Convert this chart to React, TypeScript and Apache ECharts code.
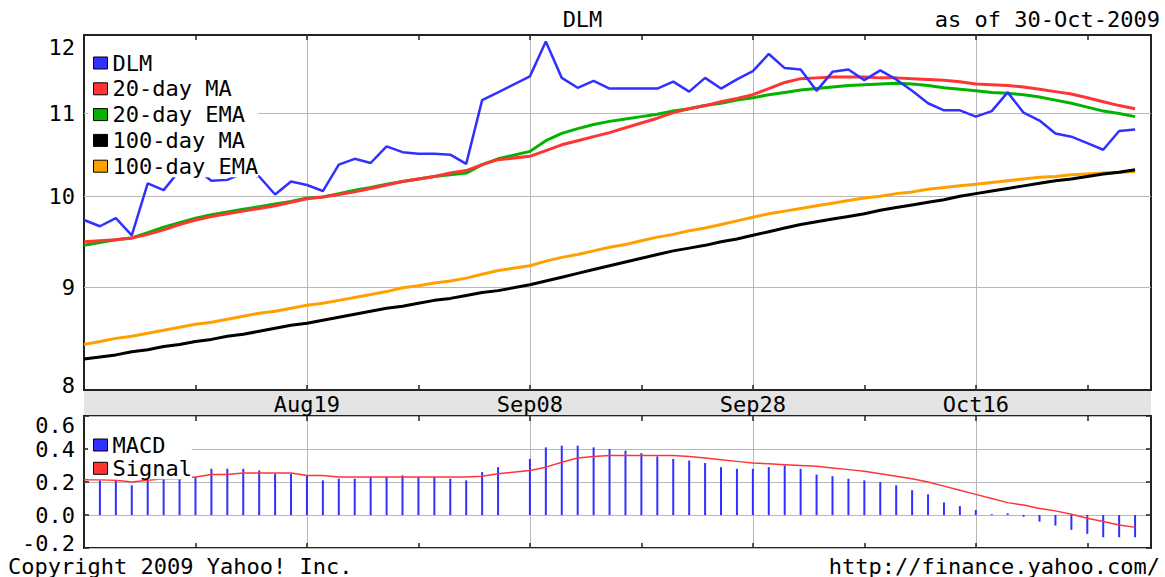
import React, { useEffect, useRef } from "react";
import * as echarts from "echarts";

const FONT = "DejaVu Sans Mono";
const MONTHS = ["Jan", "Feb", "Mar", "Apr", "May", "Jun", "Jul", "Aug", "Sep", "Oct", "Nov", "Dec"];

// Weekday categories, Jul 30 2009 .. Nov 02 2009 (holidays keep their slot)
function weekdays(y: number, m: number, d: number, count: number): string[] {
  const out: string[] = [];
  let t = Date.UTC(y, m, d);
  while (out.length < count) {
    const dt = new Date(t);
    const wd = dt.getUTCDay();
    if (wd !== 0 && wd !== 6) {
      out.push(MONTHS[dt.getUTCMonth()] + String(dt.getUTCDate()).padStart(2, "0"));
    }
    t += 86400000;
  }
  return out;
}
const categories = weekdays(2009, 6, 30, 68);
const majorDates = ["Aug19", "Sep08", "Sep28", "Oct16"];

const dlm = [
  9.73, 9.66, 9.75, 9.56, 10.15, 10.07, 10.30, 10.32, 10.18, 10.19,
  10.27, 10.23, 10.02, 10.17, 10.13, 10.06, 10.37, 10.44, 10.39, 10.59,
  10.52, 10.50, 10.50, 10.49, 10.38, 11.17, 11.27, null, 11.48, 11.95,
  11.46, 11.33, 11.42, 11.32, 11.32, 11.32, 11.32, 11.41, 11.28, 11.46,
  11.32, 11.44, 11.55, 11.78, 11.59, 11.57, 11.29, 11.54, 11.57, 11.43,
  11.56, 11.44, 11.29, 11.13, 11.04, 11.04, 10.96, 11.03, 11.27, 11.01,
  10.91, 10.75, 10.71, 10.63, 10.55, 10.78, 10.80,
];
const ma20 = [
  9.49, 9.50, 9.51, 9.53, 9.57, 9.62, 9.68, 9.73, 9.77, 9.80,
  9.83, 9.86, 9.89, 9.93, 9.97, 9.99, 10.02, 10.05, 10.09, 10.13,
  10.17, 10.20, 10.23, 10.27, 10.30, 10.37, 10.43, null, 10.47, 10.54,
  10.61, 10.66, 10.71, 10.76, 10.82, 10.88, 10.94, 11.01, 11.06, 11.10,
  11.15, 11.19, 11.24, 11.32, 11.40, 11.45, 11.46, 11.47, 11.47, 11.47,
  11.46, 11.46, 11.45, 11.44, 11.43, 11.41, 11.38, 11.37, 11.36, 11.34,
  11.31, 11.28, 11.25, 11.20, 11.15, 11.10, 11.06,
];
const ema20 = [
  9.45, 9.48, 9.51, 9.53, 9.59, 9.65, 9.70, 9.75, 9.79, 9.82,
  9.85, 9.88, 9.91, 9.94, 9.98, 9.99, 10.03, 10.07, 10.10, 10.14,
  10.17, 10.20, 10.23, 10.25, 10.27, 10.37, 10.44, null, 10.53, 10.66,
  10.75, 10.81, 10.86, 10.90, 10.93, 10.96, 10.99, 11.03, 11.06, 11.10,
  11.13, 11.17, 11.20, 11.24, 11.27, 11.30, 11.32, 11.34, 11.36, 11.37,
  11.38, 11.39, 11.38, 11.36, 11.33, 11.31, 11.29, 11.27, 11.26, 11.24,
  11.21, 11.17, 11.13, 11.08, 11.03, 11.00, 10.96,
];
const ma100 = [
  8.29, 8.31, 8.33, 8.36, 8.38, 8.41, 8.43, 8.46, 8.48, 8.51,
  8.53, 8.56, 8.59, 8.62, 8.64, 8.67, 8.70, 8.73, 8.76, 8.79,
  8.81, 8.84, 8.87, 8.89, 8.92, 8.95, 8.97, null, 9.03, 9.07,
  9.11, 9.15, 9.19, 9.23, 9.27, 9.31, 9.35, 9.39, 9.42, 9.45,
  9.49, 9.52, 9.56, 9.60, 9.64, 9.68, 9.71, 9.74, 9.77, 9.80,
  9.84, 9.87, 9.90, 9.93, 9.96, 10.00, 10.03, 10.06, 10.09, 10.12,
  10.15, 10.18, 10.20, 10.23, 10.26, 10.28, 10.31,
];
const ema100 = [
  8.43, 8.46, 8.49, 8.51, 8.54, 8.57, 8.60, 8.63, 8.65, 8.68,
  8.71, 8.74, 8.76, 8.79, 8.82, 8.84, 8.87, 8.90, 8.93, 8.96,
  9.00, 9.02, 9.05, 9.07, 9.10, 9.14, 9.18, null, 9.23, 9.28,
  9.32, 9.35, 9.39, 9.43, 9.46, 9.50, 9.54, 9.57, 9.61, 9.64,
  9.68, 9.72, 9.76, 9.80, 9.83, 9.86, 9.89, 9.92, 9.95, 9.98,
  10.00, 10.03, 10.05, 10.08, 10.10, 10.12, 10.14, 10.16, 10.18, 10.20,
  10.22, 10.23, 10.25, 10.26, 10.27, 10.28, 10.29,
];
const macd = [
  null, 0.21, 0.21, 0.18, 0.21, 0.23, 0.23, 0.23, 0.28, 0.28,
  0.28, 0.27, 0.25, 0.25, 0.24, 0.21, 0.22, 0.22, 0.23, 0.23,
  0.24, 0.23, 0.23, 0.22, 0.21, 0.26, 0.29, null, 0.34, 0.41,
  0.42, 0.42, 0.41, 0.40, 0.39, 0.375, 0.355, 0.34, 0.33, 0.315,
  0.29, 0.28, 0.28, 0.29, 0.30, 0.28, 0.245, 0.235, 0.22, 0.21,
  0.20, 0.18, 0.15, 0.125, 0.076, 0.054, 0.03, 0.005, 0.01, -0.01,
  -0.04, -0.064, -0.09, -0.114, -0.135, -0.135, -0.135,
];
const signal = [
  0.214, 0.214, 0.21, 0.20, 0.21, 0.22, 0.22, 0.23, 0.245, 0.245,
  0.255, 0.255, 0.255, 0.255, 0.24, 0.24, 0.23, 0.23, 0.23, 0.23,
  0.23, 0.23, 0.23, 0.23, 0.23, 0.235, 0.25, null, 0.27, 0.29,
  0.32, 0.345, 0.355, 0.36, 0.36, 0.36, 0.36, 0.36, 0.355, 0.345,
  0.335, 0.325, 0.315, 0.31, 0.305, 0.30, 0.295, 0.285, 0.275, 0.265,
  0.25, 0.235, 0.22, 0.20, 0.175, 0.15, 0.125, 0.10, 0.075, 0.06,
  0.04, 0.025, 0.005, -0.02, -0.04, -0.06, -0.075,
];
const priceGridValues = [9, 10, 11];
const priceLabelOnly = [8, 12];

const BLUE = "#3030ff";
const RED = "#ff3434";
const GREEN = "#00b400";
const BLACK = "#000000";
const ORANGE = "#ffa000";
const GRIDC = "#b8b8b8";
const FRAME = "#222";
const CLEAR = "rgba(0,0,0,0)";

const isTick = (idx: number) => idx > 0 && idx % 7 === 0;
const isMajor = (idx: number, val?: string) => majorDates.includes(val ?? categories[idx]);

const txt = { fontFamily: FONT, fontSize: 22, color: "#000", fontWeight: "normal" as const };

function xAxis(gridIndex: number, position: "top" | "bottom", labels: boolean, split: boolean) {
  return {
    type: "category",
    gridIndex,
    position,
    data: categories,
    boundaryGap: false,
    axisLine: { show: false, onZero: false },
    axisTick: { show: true, inside: true, length: 5, interval: (i: number) => isTick(i), lineStyle: { color: FRAME, width: 1.5 } },
    axisLabel: labels
      ? { show: true, interval: (i: number, v: string) => isMajor(i, v), margin: 3, ...txt }
      : { show: false },
    splitLine: split
      ? { show: true, interval: (i: number, v: string) => isMajor(i, v), lineStyle: { color: GRIDC, width: 1 } }
      : { show: false },
  };
}

function lineSeries(name: string, data: (number | null)[], color: string, width: number, extra: any = {}) {
  return {
    name,
    type: "line",
    xAxisIndex: 0,
    yAxisIndex: 0,
    data,
    color,
    symbol: "none",
    connectNulls: true,
    lineStyle: { color, width },
    emphasis: { disabled: true },
    silent: true,
    ...extra,
  };
}

export default function App() {
  const ref = useRef<HTMLDivElement>(null);
  useEffect(() => {
    const chart = echarts.init(ref.current!, null, { renderer: "svg" });
    const markData: any[] = [
      ...priceGridValues.map((v) => ({ yAxis: v })),
      { yAxis: priceLabelOnly[0], lineStyle: { color: CLEAR } },
      { yAxis: priceLabelOnly[1], lineStyle: { color: CLEAR } },
    ];
    chart.setOption({
      animation: false,
      backgroundColor: "#fff",
      textStyle: { fontFamily: FONT },
      title: [
        { text: "DLM", left: "center", top: 8, padding: 0, textStyle: txt },
        { text: "as of 30-Oct-2009", right: 5, top: 8, padding: 0, textStyle: txt },
        { text: "Copyright 2009 Yahoo! Inc.", left: 8, top: 555, padding: 0, textStyle: txt },
        { text: "http://finance.yahoo.com/", right: 5, top: 555, padding: 0, textStyle: txt },
      ],
      legend: [
        {
          orient: "vertical",
          left: 88,
          top: 52,
          padding: [0, 0, 0, 5],
          backgroundColor: "#fff",
          itemGap: 3.8,
          itemWidth: 14,
          itemHeight: 12,
          icon: "rect",
          selectedMode: false,
          itemStyle: { borderColor: "#000", borderWidth: 1 },
          textStyle: { ...txt, lineHeight: 22 },
          data: ["DLM", "20-day MA", "20-day EMA", "100-day MA", "100-day EMA"],
        },
        {
          orient: "vertical",
          left: 88,
          top: 434,
          padding: [0, 0, 0, 5],
          backgroundColor: "#fff",
          itemGap: 1.3,
          itemWidth: 14,
          itemHeight: 12,
          icon: "rect",
          selectedMode: false,
          itemStyle: { borderColor: "#000", borderWidth: 1 },
          textStyle: { ...txt, lineHeight: 22 },
          data: ["MACD", "Signal"],
        },
      ],
      graphic: [
        {
          type: "rect",
          z: -1,
          silent: true,
          shape: { x: 84, y: 390, width: 1067, height: 26 },
          style: { fill: "#e4e4e4" },
        },
      ],
      grid: [
        { left: 84, right: 14, top: 35, height: 355, show: true, borderColor: FRAME, borderWidth: 2, backgroundColor: "transparent" },
        { left: 84, right: 14, top: 416, height: 132, show: true, borderColor: FRAME, borderWidth: 2, backgroundColor: "transparent" },
      ],
      xAxis: [
        xAxis(0, "bottom", true, true),
        xAxis(0, "top", false, false),
        xAxis(1, "bottom", false, true),
        xAxis(1, "top", false, false),
      ],
      yAxis: [
        {
          type: "log",
          logBase: 10,
          gridIndex: 0,
          min: 8,
          max: 12.04,
          axisLine: { show: false, onZero: false },
          axisTick: { show: false },
          axisLabel: { show: false },
          splitLine: { show: false },
        },
        {
          type: "value",
          gridIndex: 1,
          min: -0.2,
          max: 0.6,
          interval: 0.2,
          axisLine: { show: false, onZero: false },
          axisTick: { show: true, inside: true, length: 5, lineStyle: { color: FRAME, width: 1.5 } },
          axisLabel: {
            ...txt,
            lineHeight: 18,
            margin: 9,
            formatter: (v: number) => (v < -0.1 ? "{lo|" + v.toFixed(1) + "}" : v.toFixed(1)),
            rich: { lo: { ...txt, lineHeight: 18, padding: [0, 0, 10, 0] } },
            verticalAlignMaxLabel: "top",
          },
          splitLine: { show: true, lineStyle: { color: GRIDC, width: 1 } },
        },
        {
          type: "value",
          gridIndex: 1,
          position: "right",
          min: -0.2,
          max: 0.6,
          interval: 0.2,
          axisLine: { show: false, onZero: false },
          axisTick: { show: true, inside: true, length: 5, lineStyle: { color: FRAME, width: 1.5 } },
          axisLabel: { show: false },
          splitLine: { show: false },
        },
      ],
      series: [
        lineSeries("100-day EMA", ema100, ORANGE, 3, {
          markLine: {
            silent: true,
            z: 1,
            symbol: ["none", "none"],
            animation: false,
            lineStyle: { color: GRIDC, width: 1, type: "solid" },
            label: {
              show: true,
              position: "start",
              distance: 9,
              ...txt,
              formatter: (p: any) => {
                const v = Number(p.value);
                if (v >= 12) return "{hi|" + v + "}";
                if (v <= 8) return "{lo|" + v + "}";
                return String(v);
              },
              rich: {
                hi: { ...txt, padding: [20, 0, 0, 0] },
                lo: { ...txt, padding: [0, 0, 10, 0] },
              },
            },
            emphasis: { disabled: true },
            data: markData,
          },
        }),
        lineSeries("100-day MA", ma100, BLACK, 3),
        lineSeries("20-day EMA", ema20, GREEN, 3),
        lineSeries("20-day MA", ma20, RED, 3),
        lineSeries("DLM", dlm, BLUE, 2.5),
        {
          name: "MACD",
          type: "bar",
          xAxisIndex: 2,
          yAxisIndex: 1,
          data: macd,
          color: BLUE,
          barWidth: 2,
          silent: true,
          itemStyle: { color: BLUE },
        },
        {
          name: "Signal",
          type: "line",
          xAxisIndex: 2,
          yAxisIndex: 1,
          data: signal,
          color: RED,
          symbol: "none",
          connectNulls: true,
          silent: true,
          lineStyle: { color: RED, width: 1.5 },
        },
      ],
    });
    return () => chart.dispose();
  }, []);
  return (
    <div
      ref={ref}
      style={{ position: "absolute", left: 0, top: 0, width: 1165, height: 577, background: "#fff" }}
    />
  );
}
